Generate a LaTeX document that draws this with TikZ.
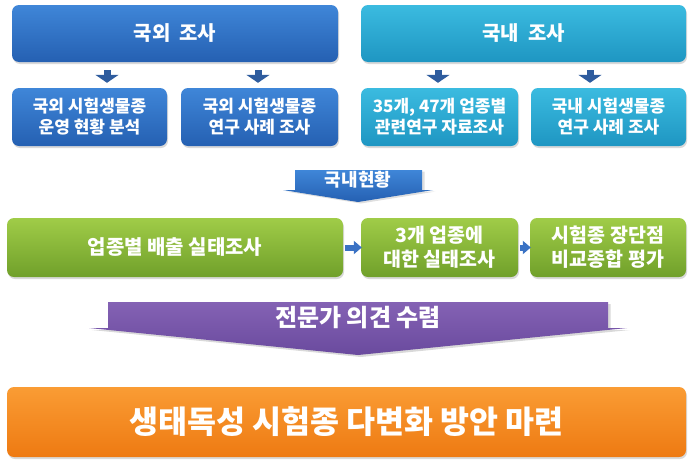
\documentclass[tikz,border=0pt]{standalone}
\usepackage{fontspec}
\setmainfont{Noto Sans CJK KR}
\usetikzlibrary{arrows.meta,shadows}

\definecolor{blueTop}{HTML}{3F86D8}
\definecolor{blueBot}{HTML}{2560B2}
\definecolor{tealTop}{HTML}{3BBBE0}
\definecolor{tealBot}{HTML}{1E96C2}
\definecolor{greenTop}{HTML}{A0CC48}
\definecolor{greenBot}{HTML}{70A02A}
\definecolor{purpTop}{HTML}{8462B4}
\definecolor{purpBot}{HTML}{6A4A9E}
\definecolor{orgTop}{HTML}{FA9C34}
\definecolor{orgBot}{HTML}{EE7A12}
\definecolor{arrBlue}{HTML}{2E5C9E}
\definecolor{arrBlueB}{HTML}{3A72C4}

\tikzset{
	box/.style={rounded corners=7pt, text=white, font=\bfseries, align=center,
		inner sep=0pt, drop shadow={opacity=0.3, shadow xshift=1pt, shadow yshift=-2pt}},
	bluebox/.style={box, top color=blueTop, bottom color=blueBot},
	tealbox/.style={box, top color=tealTop, bottom color=tealBot},
	greenbox/.style={box, top color=greenTop, bottom color=greenBot},
	orangebox/.style={box, top color=orgTop, bottom color=orgBot},
	downarr/.style={arrBlue, line width=7pt, -{Triangle[width=23pt,length=8pt]},
		shorten <=8pt, shorten >=5pt},
	rightarr/.style={arrBlueB, line width=6pt, -{Triangle[width=13pt,length=8pt]},
		shorten <=2pt, shorten >=-1pt}
}

\begin{document}
\begin{tikzpicture}[x=1pt, y=-1pt]
	\useasboundingbox (0,0) rectangle (693,466);

	% overseas / domestic survey
	\node[bluebox, minimum width=326pt, minimum height=57pt, font=\bfseries\fontsize{20}{22}\selectfont]
		(abroad) at (175,33.5) {국외\ \ 조사};
	\node[tealbox, minimum width=325pt, minimum height=57pt, font=\bfseries\fontsize{20}{22}\selectfont]
		(domestic) at (523.5,33.5) {국내\ \ 조사};

	\node[bluebox, minimum width=155pt, minimum height=58pt, font=\bfseries\fontsize{17}{21}\selectfont]
		(abroadA) at (89.5,117) {국외 시험생물종\\운영 현황 분석};
	\node[bluebox, minimum width=157pt, minimum height=58pt, font=\bfseries\fontsize{17}{21}\selectfont]
		(abroadB) at (259.5,117) {국외 시험생물종\\연구 사례 조사};
	\node[tealbox, minimum width=157pt, minimum height=58pt, font=\bfseries\fontsize{17}{21}\selectfont]
		(domA) at (439.5,117) {35개, 47개 업종별\\관련연구 자료조사};
	\node[tealbox, minimum width=155pt, minimum height=58pt, font=\bfseries\fontsize{17}{21}\selectfont]
		(domB) at (608.5,117) {국내 시험생물종\\연구 사례 조사};

	\draw[downarr] ([xshift=17.5pt]abroadA.north |- abroad.south) -- ([xshift=17.5pt]abroadA.north);
	\draw[downarr] ([xshift=-1.5pt]abroadB.north |- abroad.south) -- ([xshift=-1.5pt]abroadB.north);
	\draw[downarr] ([xshift=-1.5pt]domA.north |- domestic.south) -- ([xshift=-1.5pt]domA.north);
	\draw[downarr] ([xshift=-18.5pt]domB.north |- domestic.south) -- ([xshift=-18.5pt]domB.north);

	% banner: domestic status
	\shade[top color=blueTop, bottom color=blueBot, drop shadow={opacity=0.25, shadow yshift=-1.5pt}]
		(295,170) -- (422,170) -- (422,190) -- (433,190) -- (358,202) -- (283,190) -- (295,190) -- cycle;
	\node[text=white, font=\bfseries\fontsize{18}{20}\selectfont] (status) at (358,180) {국내현황};

	% field survey row
	\node[greenbox, minimum width=336pt, minimum height=59pt, font=\bfseries\fontsize{20}{22}\selectfont]
		(fieldA) at (175,247.5) {업종별 배출 실태조사};
	\node[greenbox, minimum width=157pt, minimum height=59pt, font=\bfseries\fontsize{19.5}{24}\selectfont]
		(fieldB) at (439.5,247.5) {3개 업종에\\대한 실태조사};
	\node[greenbox, minimum width=156pt, minimum height=59pt, font=\bfseries\fontsize{19.5}{24}\selectfont]
		(fieldC) at (608,247.5) {시험종 장단점\\비교종합 평가};

	\draw[rightarr] (fieldA.east) -- (fieldB.west);
	\draw[rightarr] (fieldB.east) -- (fieldC.west);

	% banner: expert opinion
	\shade[top color=purpTop, bottom color=purpBot, drop shadow={opacity=0.3, shadow yshift=-2pt}]
		(108,302) -- (608,302) -- (608,328) -- (627,328) -- (358,355) -- (89,328) -- (108,328) -- cycle;
	\node[text=white, font=\bfseries\fontsize{24}{26}\selectfont] (expert) at (358,318) {전문가 의견 수렴};

	% final result
	\node[orangebox, minimum width=679pt, minimum height=70pt, font=\bfseries\fontsize{31.5}{34}\selectfont]
		(result) at (346.5,422) {생태독성 시험종 다변화 방안 마련};
\end{tikzpicture}
\end{document}
